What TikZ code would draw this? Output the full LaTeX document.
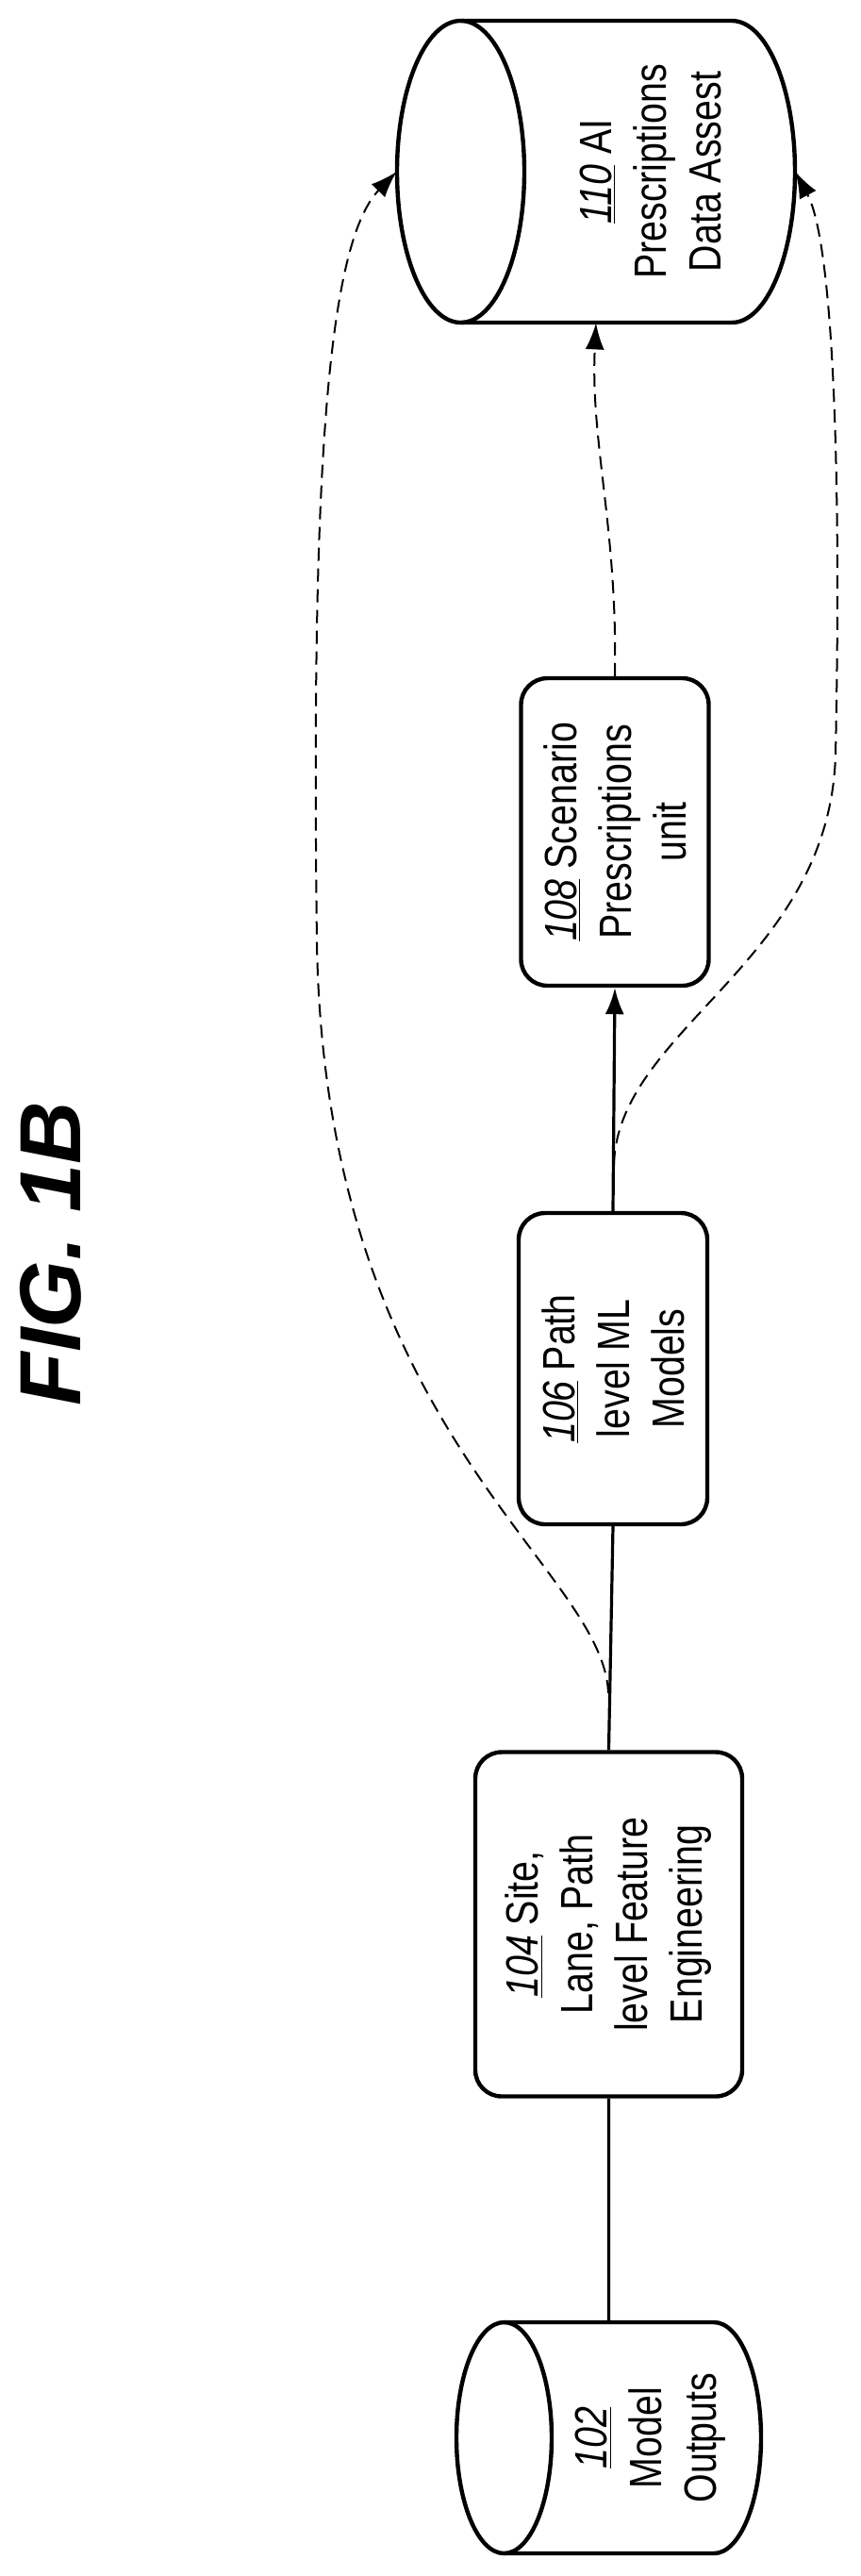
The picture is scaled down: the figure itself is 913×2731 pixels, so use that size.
\documentclass[tikz,border=0pt]{standalone}
\usepackage{fontspec}
\setmainfont{Liberation Sans}[FakeStretch=0.82]
\newfontfamily\figfont{Liberation Sans}
\usetikzlibrary{arrows.meta}

\begin{document}
\begin{tikzpicture}[x=0.5pt,y=-0.5pt,
    box/.style={draw,rounded corners=14pt,line width=2.2pt,rotate=90,align=center,font=\fontsize{24}{29}\selectfont},
    cyl/.style={rotate=90,inner sep=0pt},
    txt/.style={rotate=90,align=center,font=\fontsize{24}{29}\selectfont},
    flow/.style={-{Latex[length=14pt,width=10pt]},line width=1.6pt},
    back/.style={-{Latex[length=14pt,width=10pt]},line width=1pt,dash pattern=on 7pt off 4pt}]

    \useasboundingbox (0,0) rectangle (913,2731);

    \node[rotate=90,font=\figfont\fontsize{46}{50}\selectfont\bfseries\itshape] (fig) at (54,1329) {FIG. 1B};

    \node[cyl,minimum width=160pt,minimum height=211pt] (c110) at (632,182) {};
    \node[cyl,minimum width=122.5pt,minimum height=161.5pt] (c102) at (645.5,2584.5) {};
    \node[box,minimum width=163pt,minimum height=99.5pt] (b108) at (652,882) {\underline{\textit{108}} Scenario\\Prescriptions\\unit};
    \node[box,minimum width=165pt,minimum height=100pt] (b106) at (650,1451) {\underline{\textit{106}} Path\\level ML\\Models};
    \node[box,minimum width=182.5pt,minimum height=141.5pt] (b104) at (645.5,2040) {\underline{\textit{104}} Site,\\Lane, Path\\level Feature\\Engineering};

    % cylinders
    \draw[line width=2.2pt] (488.5,182) ellipse [x radius=33.75pt,y radius=80pt];
    \draw[line width=2.2pt] (488.5,22) -- (776,22) arc[start angle=90,end angle=-90,x radius=33.5pt,y radius=80pt] -- (488.5,342);
    \draw[line width=2.2pt] (534.5,2584.5) ellipse [x radius=25.25pt,y radius=61.25pt];
    \draw[line width=2.2pt] (534.5,2462) -- (757,2462) arc[start angle=90,end angle=-90,x radius=25pt,y radius=61.25pt] -- (534.5,2707);
    \node[txt] (t110) at (690,182) {\underline{\textit{110}} AI\\Prescriptions\\Data Assest};
    \node[txt] (t102) at (690,2584.5) {\underline{\textit{102}}\\Model\\Outputs};

    \path[flow,draw]
    (c102.east) -- (b104.west)
    (b104.east) -- (b106.west)
    (b106.east) -- (b108.west);

    \coordinate (s1) at (645,1795);
    \coordinate (s2) at (651,1234);
    \draw[back] (b108.east) .. controls (655,560) and (626,470) .. (c110.west);
    \draw[back] (s1) .. controls (640,1660) and (345,1520) .. (336,1000) .. controls (330,520) and (345,260) .. (c110.north);
    \draw[back] (s2) .. controls (656,1090) and (880,1020) .. (886,800) .. controls (892,520) and (885,260) .. (c110.south);
\end{tikzpicture}
\end{document}
